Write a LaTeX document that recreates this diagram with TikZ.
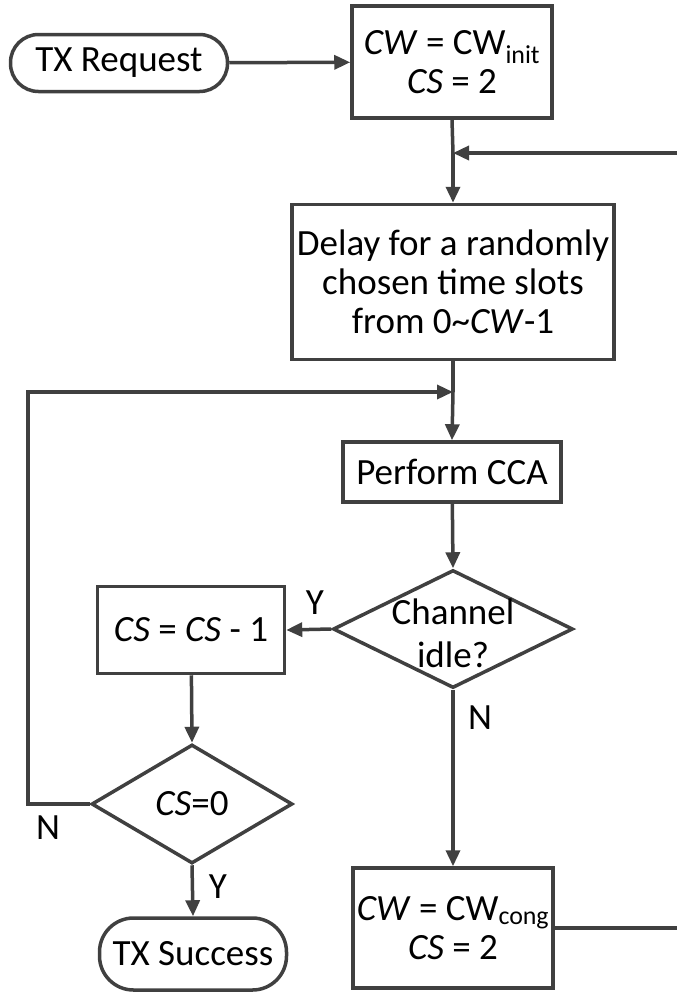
\documentclass[tikz,border=0pt]{standalone}
\usepackage{fontspec}
\setmainfont{Carlito}
\usetikzlibrary{shapes.geometric,arrows.meta}
\begin{document}
\begin{tikzpicture}[x=1pt,y=-1pt,
  every node/.style={font=\fontsize{37}{39}\selectfont, text=black},
  ln/.style={draw=black!75, line width=3.5pt},
  arr/.style={ln, -{Triangle[length=16pt,width=14pt]}},
  box/.style={ln, rectangle, inner sep=0pt, align=center},
  term/.style={ln, rectangle, rounded corners=28pt, inner sep=0pt, align=center},
  dec/.style={ln, diamond, inner sep=0pt},
  txt/.style={inner sep=0pt, align=center},
  lbl/.style={inner sep=0pt}]
\useasboundingbox (0,0) rectangle (677,994);
\node[term, minimum width=217pt, minimum height=57pt] (req) at (119,63) {TX Request};
\node[box, minimum width=200pt, minimum height=112pt] (init) at (452,62) {\textit{CW} = CW\textsubscript{init}\\\textit{CS} = 2};
\node[box, minimum width=322pt, minimum height=155pt] (delay) at (453,282) {Delay for a randomly\\chosen time slots\\from 0\textasciitilde\textit{CW}-1};
\node[box, minimum width=218pt, minimum height=60pt] (cca) at (452,472) {Perform CCA};
\node[dec, minimum width=240pt, minimum height=118pt] (idle) at (453,629) {};
\node[txt, font=\fontsize{37}{43}\selectfont] (idlet) at (453,633) {Channel\\idle?};
\node[box, minimum width=187pt, minimum height=87pt] (dec1) at (191,630) {\textit{CS} = \textit{CS} - 1};
\node[dec, minimum width=201pt, minimum height=119pt] (zero) at (192,804) {};
\node[txt] (zerot) at (zero) {\textit{CS}=0};
\node[term, minimum width=187pt, minimum height=72pt, rounded corners=34pt] (succ) at (193,954) {TX Success};
\node[box, minimum width=200pt, minimum height=120pt] (cong) at (453,928) {\textit{CW} = CW\textsubscript{cong}\\\textit{CS} = 2};
\coordinate (m1) at (453,153);
\coordinate (m2) at (453,392);
\coordinate (rc) at (690,928);
\coordinate (lc) at (28,804);
\draw[arr] (req) -- (init);
\draw[ln] (init.south) -- (m1);
\draw[arr] (m1) -- (delay.north);
\draw[arr] (cong.east) -- (rc) |- (m1);
\draw[ln] (delay.south) -- (m2);
\draw[arr] (m2) -- (cca.north);
\draw[arr] (zero.west) -- (lc) |- (m2);
\draw[arr] (cca) -- (idle.north);
\draw[arr] (idle.west) -- (dec1.east);
\draw[arr] (dec1) -- (zero.north);
\draw[arr] (zero.south) -- (succ.north);
\draw[arr] (idle.south) -- (cong.north);
\node[lbl] (ly1) at (315,603) {Y};
\node[lbl] (ln1) at (480,718) {N};
\node[lbl] (ln2) at (48,828) {N};
\node[lbl] (ly2) at (218,887) {Y};
\end{tikzpicture}
\end{document}
